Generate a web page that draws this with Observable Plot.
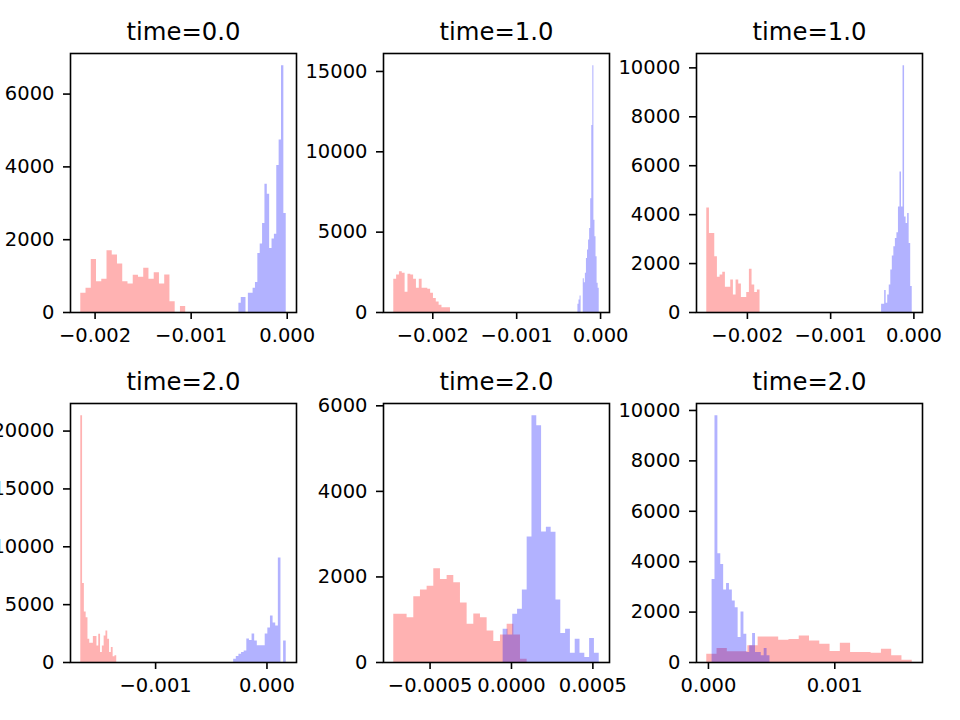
<!DOCTYPE html>
<html>
<head>
<meta charset="utf-8">
<script src="https://cdn.jsdelivr.net/npm/d3@7"></script>
<script src="https://cdn.jsdelivr.net/npm/@observablehq/plot@0.6"></script>
<style>
  body { margin: 0; background: #fff; }
  #fig { position: relative; width: 960px; height: 720px; overflow: hidden; background: #fff; }
  #fig svg { position: absolute; overflow: visible; }
</style>
</head>
<body>
<div id="fig"></div>
<script>
// Panel titles, row by row
const titles = ["time=0.0", "time=1.0", "time=1.0", "time=2.0", "time=2.0", "time=2.0"];

// Value range [min, max] of each series, per panel (20 equal bins span it)
const redExtent = [
  [-0.002149, -0.001057],
  [-0.002465, -0.001789],
  [-0.002488, -0.001848],
  [-0.001672, -0.001349],
  [-0.000723, 0.0000963],
  [-0.0000132, 0.001613]
];
const blueExtent = [
  [-0.000503, -0.0000104],
  [-0.00027, -0.0000159],
  [-0.000388, -0.00002],
  [-0.000299, 0.000173],
  [-0.0000512, 0.000539],
  [0.0000289, 0.000487]
];

// Bin counts (20 bins per series)
const redCounts = [
  [529, 666, 1459, 848, 912, 1696, 1578, 1332, 848, 784, 1021, 967, 1213, 912, 1094, 784, 1031, 292, 0, 164],
  [2066, 2335, 2541, 2438, 1260, 2376, 2335, 2066, 1508, 2066, 1508, 1508, 1446, 1198, 868, 661, 455, 289, 289, 289],
  [4275, 3230, 3230, 2280, 1438, 1533, 1642, 1031, 1031, 1330, 719, 1330, 1167, 611, 611, 814, 1764, 1126, 814, 923],
  [21317, 6828, 4361, 3873, 2008, 1664, 1664, 2238, 2238, 1435, 2439, 861, 1435, 2295, 2726, 2008, 861, 1291, 488, 574],
  [1125, 1125, 1048, 1537, 1692, 1785, 2189, 1940, 2033, 1863, 1389, 893, 1133, 1048, 737, 489, 644, 893, 644, 78],
  [330, 554, 422, 422, 660, 1016, 1016, 884, 910, 1055, 857, 725, 435, 765, 396, 396, 369, 528, 264, 92]
];
const blueCounts = [
  [255, 410, 410, 0, 529, 529, 666, 821, 1623, 1879, 2444, 3520, 3247, 1760, 2016, 2152, 4040, 4742, 6776, 2718],
  [517, 785, 1033, 0, 0, 2107, 1859, 2438, 3368, 3884, 4504, 5227, 7086, 11632, 15350, 5743, 4710, 3471, 1818, 1508],
  [339, 339, 896, 380, 719, 1126, 1737, 2307, 2687, 3026, 3257, 4315, 5740, 4315, 10083, 3908, 3637, 4044, 2823, 1058],
  [287, 516, 717, 861, 1000, 2040, 1900, 2471, 1868, 1438, 1438, 1438, 2471, 2988, 4021, 3418, 3160, 9037, 0, 1868],
  [776, 644, 1125, 1242, 1692, 2934, 5766, 5534, 3050, 3159, 3042, 1459, 675, 776, 217, 543, 217, 116, 559, 217],
  [3298, 9787, 4313, 3891, 2875, 3139, 2875, 2440, 2176, 989, 2005, 1121, 396, 660, 1148, 396, 396, 264, 554, 264]
];

// Tick values and formats
const xTicks = [
  [-0.002, -0.001, 0],
  [-0.002, -0.001, 0],
  [-0.002, -0.001, 0],
  [-0.001, 0],
  [-0.0005, 0, 0.0005],
  [0, 0.001]
];
const xFormats = [".3f", ".3f", ".3f", ".3f", ".4f", ".3f"];
const yTicks = [
  [0, 2000, 4000, 6000],
  [0, 5000, 10000, 15000],
  [0, 2000, 4000, 6000, 8000, 10000],
  [0, 5000, 10000, 15000, 20000],
  [0, 2000, 4000, 6000],
  [0, 2000, 4000, 6000, 8000, 10000]
];

// Subplot grid geometry
const frameLefts = [70, 383, 696];
const frameTops = [53, 403];
const frameW = 226, frameH = 259;
const mL = 70, mR = 12, mT = 50, mB = 45;

// Step outline of a histogram with equal bins between lo and hi
function stepPoints([lo, hi], counts) {
  const n = counts.length, w = (hi - lo) / n;
  const pts = counts.map((c, i) => ({x: lo + i * w, y: c}));
  pts.push({x: hi, y: counts[n - 1]});
  return pts;
}

const fig = document.getElementById("fig");

titles.forEach((title, i) => {
  const row = Math.floor(i / 3), col = i % 3;
  const lo = Math.min(redExtent[i][0], blueExtent[i][0]);
  const hi = Math.max(redExtent[i][1], blueExtent[i][1]);
  const pad = 0.05 * (hi - lo);
  const ymax = Math.max(d3.max(redCounts[i]), d3.max(blueCounts[i])) * 1.05;

  const svg = Plot.plot({
    width: mL + frameW + mR,
    height: mT + frameH + mB,
    marginLeft: mL, marginRight: mR, marginTop: mT, marginBottom: mB,
    style: {fontFamily: "DejaVu Sans", fontSize: "19.5px", background: "transparent", overflow: "visible", color: "black"},
    x: {domain: [lo - pad, hi + pad]},
    y: {domain: [0, ymax]},
    marks: [
      Plot.areaY(stepPoints(redExtent[i], redCounts[i]), {x: "x", y: "y", curve: "step-after", fill: "red", fillOpacity: 0.3}),
      Plot.areaY(stepPoints(blueExtent[i], blueCounts[i]), {x: "x", y: "y", curve: "step-after", fill: "blue", fillOpacity: 0.3}),
      Plot.frame({stroke: "black", strokeWidth: 1.6}),
      Plot.axisX({ticks: xTicks[i], tickFormat: d3.format(xFormats[i]), tickSize: 7, tickPadding: 9, strokeWidth: 1.6, label: null, fontSize: 19.5}),
      Plot.axisY({ticks: yTicks[i], tickFormat: d3.format("d"), tickSize: 7, tickPadding: 9, strokeWidth: 1.6, label: null, fontSize: 19.5}),
      Plot.text([title], {frameAnchor: "top", dy: -14, lineAnchor: "bottom", fontSize: 24.3, text: d => d})
    ]
  });
  svg.style.left = (frameLefts[col] - mL) + "px";
  svg.style.top = (frameTops[row] - mT) + "px";
  fig.append(svg);
});
</script>
</body>
</html>
